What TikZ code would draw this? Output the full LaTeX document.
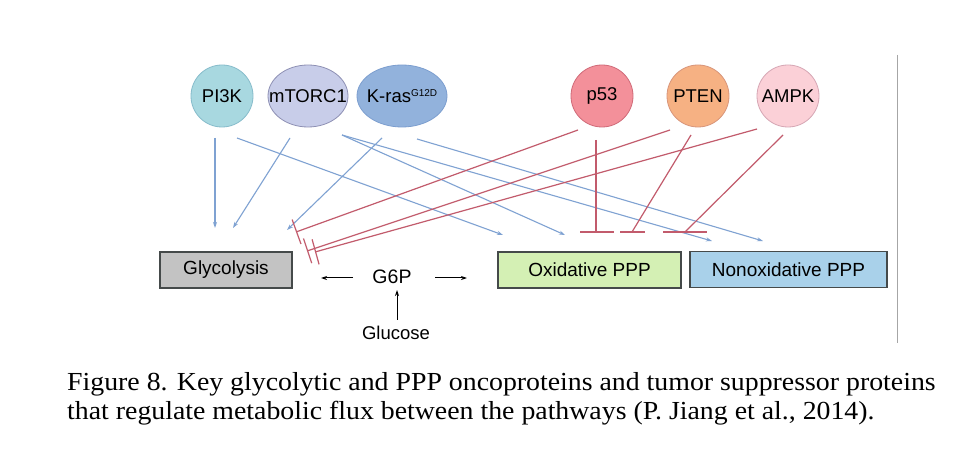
\documentclass[tikz,border=0pt]{standalone}
\usepackage{fontspec}
\setmainfont{Liberation Serif}
\setsansfont{Liberation Sans}
\usepackage{graphicx}
\usetikzlibrary{arrows.meta,shapes.geometric}
\definecolor{actblue}{HTML}{7FA2D2}
\definecolor{inhred}{HTML}{C25B6C}
\definecolor{pikfill}{HTML}{A8D8E0}\definecolor{pikdraw}{HTML}{86BCCB}
\definecolor{mtfill}{HTML}{C8CDE9}\definecolor{mtdraw}{HTML}{8E90B4}
\definecolor{krfill}{HTML}{92B2DC}\definecolor{krdraw}{HTML}{7C9ECF}
\definecolor{pfill}{HTML}{F3909A}\definecolor{pdraw}{HTML}{D06A78}
\definecolor{ptfill}{HTML}{F6B183}\definecolor{ptdraw}{HTML}{D8957A}
\definecolor{amfill}{HTML}{FBD0D7}\definecolor{amdraw}{HTML}{D6A6B4}
\definecolor{glyfill}{HTML}{C3C3C3}
\definecolor{oxfill}{HTML}{D4F0B4}
\definecolor{noxfill}{HTML}{A9D1EA}
\definecolor{boxdraw}{HTML}{454A4A}
\begin{document}
\begin{tikzpicture}[x=1pt,y=-1pt,
  lbl/.style={font=\sffamily\fontsize{18.5}{22}\selectfont},
  prot/.style={circle,minimum size=62pt,inner sep=0pt,line width=0.8pt},
  prote/.style={ellipse,minimum height=62pt,inner sep=0pt,line width=0.8pt},
  pathbox/.style={rectangle,draw=boxdraw,line width=1.5pt,minimum height=36pt,inner sep=0pt,font=\sffamily\fontsize{19}{22}\selectfont},
  act/.style={draw=actblue,line width=1.1pt,-{Stealth[length=6pt,width=4pt]}},
  inh/.style={draw=inhred,line width=1.2pt},
  blk/.style={draw=black,line width=1pt,-{Stealth[length=6pt,width=4pt]}},
  captext/.style={font=\fontsize{26}{29}\selectfont,anchor=base west,inner sep=0pt}
]
\useasboundingbox[fill=white] (0,0) rectangle (954,454);
% right gray rule
\coordinate (rtop) at (897,55);
\coordinate (rbot) at (897,343);
\draw[line width=0.8pt,draw=black!35] (rtop) -- (rbot);

% proteins
\node[prot,fill=pikfill,draw=pikdraw,label={[lbl]center:PI3K}] (pi3k) at (222,96) {};
\node[prote,fill=mtfill,draw=mtdraw,minimum width=80pt,label={[lbl]center:mTORC1}] (mtorc) at (308,96) {};
\node[prote,fill=krfill,draw=krdraw,minimum width=90pt,label={[lbl]center:K-ras\raisebox{6pt}{\fontsize{10}{12}\selectfont G12D}}] (kras) at (402,96) {};
\node[prot,fill=pfill,draw=pdraw,label={[lbl]center:p53}] (p53) at (602,96) {};
\node[prot,fill=ptfill,draw=ptdraw,label={[lbl]center:PTEN}] (pten) at (698,96) {};
\node[prot,fill=amfill,draw=amdraw,label={[lbl]center:AMPK}] (ampk) at (788,96) {};

% pathways
\node[pathbox,fill=glyfill,minimum width=132pt] (gly) at (226,270) {Glycolysis};
\node[pathbox,fill=oxfill,minimum width=183pt] (ox) at (589.5,270) {Oxidative PPP};
\node[pathbox,fill=noxfill,minimum width=197pt] (nox) at (788.5,269.5) {Nonoxidative PPP};
\node[lbl,font=\sffamily\fontsize{19.5}{22}\selectfont,inner sep=0pt] (g6p) at (392,277) {G6P};
\node[lbl,inner sep=0pt] (glc) at (396,333) {Glucose};

% activation endpoints
\coordinate (a1s) at (215,138); \coordinate (a1e) at (215,228);
\coordinate (a2s) at (237,138); \coordinate (a2e) at (503,235);
\coordinate (a3s) at (290,138); \coordinate (a3e) at (233,228);
\coordinate (a4s) at (342,135); \coordinate (a4e) at (565,235);
\coordinate (a5s) at (342,135); \coordinate (a5e) at (712,241);
\coordinate (a6s) at (382,138); \coordinate (a6e) at (287,230);
\coordinate (a7s) at (417,139); \coordinate (a7e) at (763,241);

\draw[act] (a1s) -- (a1e);
\draw[act] (a2s) -- (a2e);
\draw[act] (a3s) -- (a3e);
\draw[act] (a4s) -- (a4e);
\draw[act] (a5s) -- (a5e);
\draw[act] (a6s) -- (a6e);
\draw[act] (a7s) -- (a7e);

% inhibitions of glycolysis
\coordinate (i1s) at (578,130); \coordinate (i1e) at (296,232);
\coordinate (i2s) at (670,130); \coordinate (i2e) at (307,251);
\coordinate (i3s) at (757,129); \coordinate (i3e) at (315,252);
\draw[inh,-{Bar[width=26pt,line width=1.2pt]}] (i1s) -- (i1e);
\draw[inh,-{Bar[width=26pt,line width=1.2pt]}] (i2s) -- (i2e);
\draw[inh,-{Bar[width=26pt,line width=1.2pt]}] (i3s) -- (i3e);

% inhibitions of the PPP (horizontal bars)
\coordinate (i4s) at (596,140); \coordinate (i4e) at (596,232);
\coordinate (i5s) at (691,135); \coordinate (i5e) at (632,232);
\coordinate (i6s) at (783,135); \coordinate (i6e) at (685,232);
\coordinate (b4l) at (580,232); \coordinate (b4r) at (614,232);
\coordinate (b5l) at (620,232); \coordinate (b5r) at (645,232);
\coordinate (b6l) at (663,232); \coordinate (b6r) at (707,232);
\draw[inh] (i4s) -- (i4e);
\draw[inh] (i5s) -- (i5e);
\draw[inh] (i6s) -- (i6e);
\draw[inh] (b4l) -- (b4r);
\draw[inh] (b5l) -- (b5r);
\draw[inh] (b6l) -- (b6r);

% G6P arrows
\coordinate (gl) at (321,278);
\coordinate (gr) at (467,278);
\coordinate (gls) at (353,278);
\coordinate (grs) at (435,278);
\coordinate (gus) at (397,320);
\coordinate (gue) at (397,290);
\draw[blk] (gls) -- (gl);
\draw[blk] (grs) -- (gr);
\draw[blk] (gus) -- (gue);

% caption
\node[captext] (cap1) at (67,391) {\scalebox{1.07}[1]{Figure 8. Key glycolytic and PPP oncoproteins and tumor suppressor proteins}};
\node[captext] (cap2) at (67,420) {\scalebox{1.07}[1]{that regulate metabolic flux between the pathways (P. Jiang et al., 2014).}};
\end{tikzpicture}
\end{document}
